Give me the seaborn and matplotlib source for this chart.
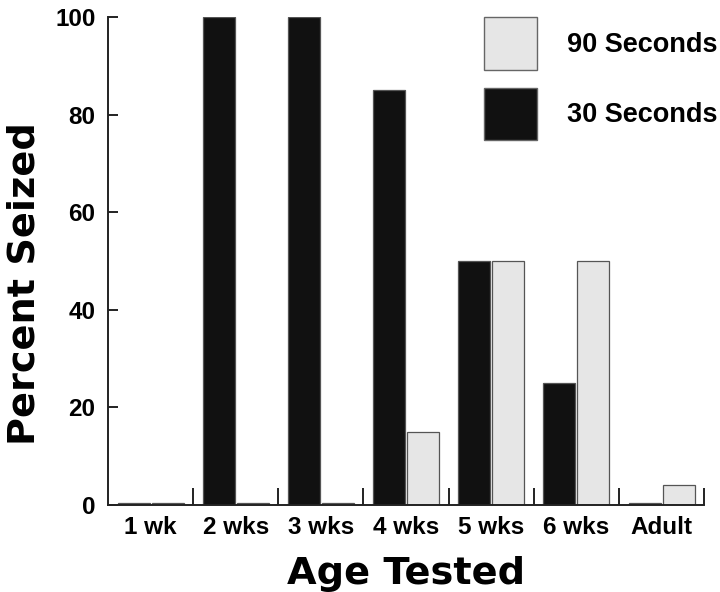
import numpy as np
import pandas as pd
import matplotlib
matplotlib.use('Agg')
import matplotlib.pyplot as plt
import seaborn as sns
from matplotlib.patches import Patch

# data
ages = ['1 wk', '2 wks', '3 wks', '4 wks', '5 wks', '6 wks', 'Adult']
pct_30s = [0.5, 100, 100, 85, 50, 25, 0.5]
pct_90s = [0.5, 0.5, 0.5, 15, 50, 50, 4]

df = pd.DataFrame({
    'AGE': ages * 2,
    'PCT': pct_30s + pct_90s,
    'DUR': ['30 Seconds'] * len(ages) + ['90 Seconds'] * len(ages),
})

sns.set_style('white')
plt.rcParams['font.family'] = ['Liberation Sans', 'DejaVu Sans']
plt.rcParams['font.weight'] = 'bold'
plt.rcParams['text.color'] = 'black'
plt.rcParams['axes.labelcolor'] = 'black'
plt.rcParams['xtick.color'] = 'black'
plt.rcParams['ytick.color'] = 'black'

fig = plt.figure(figsize=(7.2, 5.92), dpi=100)
ax = fig.add_axes([0.15, 0.147, 0.828, 0.824])

black = '#111111'
grey = '#e6e6e6'
sns.barplot(data=df, x='AGE', y='PCT', hue='DUR',
            hue_order=['30 Seconds', '90 Seconds'],
            palette=[black, grey], width=0.8, gap=0.06,
            edgecolor='#555555', linewidth=0.9, ax=ax, legend=False)

ax.set_xlim(-0.5, 6.5)
ax.set_ylim(0, 100)
ax.set_yticks([0, 20, 40, 60, 80, 100])
sns.despine(ax=ax)
for s in ['left', 'bottom']:
    ax.spines[s].set_linewidth(1.4)
    ax.spines[s].set_color('#222222')

ax.tick_params(axis='y', left=True, direction='in', length=7, width=1.4,
               labelsize=17.5, pad=9, color='#222222')
ax.tick_params(axis='x', which='major', bottom=True, length=0, labelsize=17.5, pad=8)
ax.set_xticks(np.arange(len(ages)) + 0.5, minor=True)
ax.tick_params(axis='x', which='minor', bottom=True, direction='in', length=12,
               width=1.4, color='#222222')
for lab in ax.get_xticklabels() + ax.get_yticklabels():
    lab.set_fontweight('bold')

# heavy, wide face for the axis titles
ax.set_xlabel('Age Tested', fontsize=27.5, fontweight='bold', family='DejaVu Sans')
ax.set_ylabel('Percent Seized', fontsize=27.5, fontweight='bold', family='DejaVu Sans')
ax.xaxis.set_label_coords(0.5, -0.105)
ax.yaxis.set_label_coords(-0.11, 0.453)

handles = [Patch(facecolor=grey, edgecolor='#666666', label='90 Seconds'),
           Patch(facecolor=black, edgecolor='#666666', label='30 Seconds')]
ax.legend(handles=handles, loc='upper left', bbox_to_anchor=(0.631, 1.0),
          frameon=False, handlelength=1.96, handleheight=2.6,
          labelspacing=0.67, handletextpad=1.1, borderpad=0, borderaxespad=0,
          prop={'weight': 'bold', 'size': 19.5})

fig.savefig('out.png', dpi=100)
